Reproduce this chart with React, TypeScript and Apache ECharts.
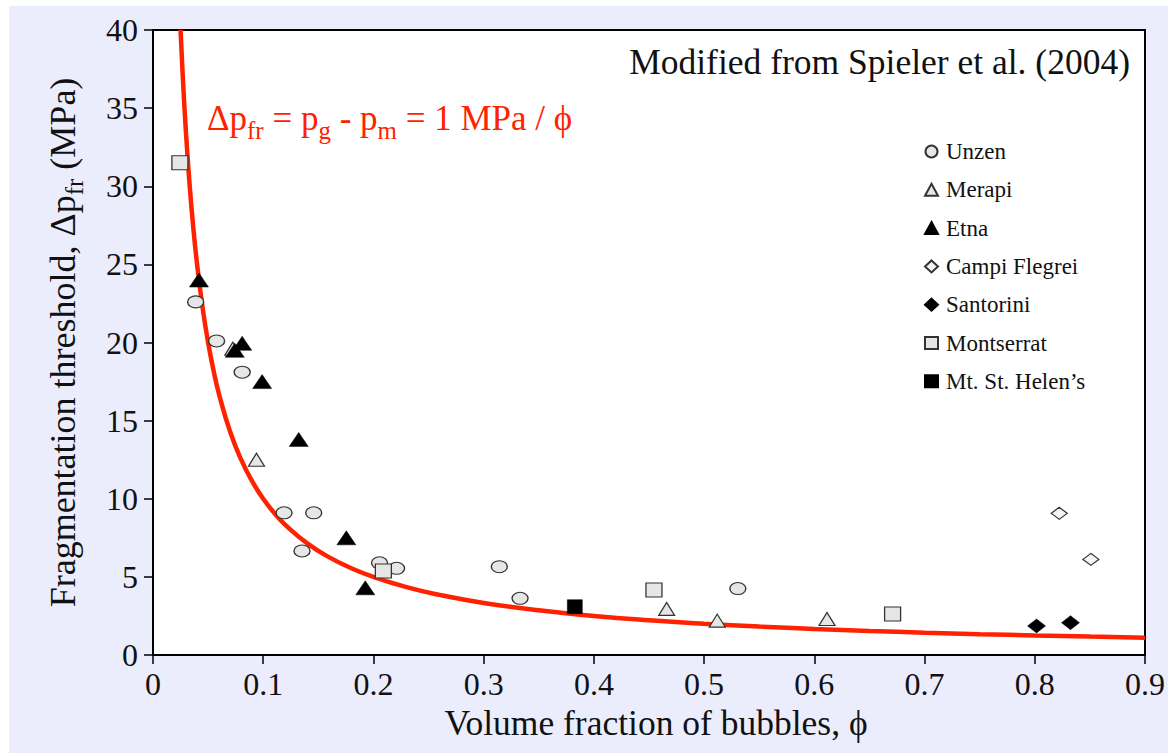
import React, { useEffect, useRef } from "react";
import * as echarts from "echarts";

const unzen = [[0.0387, 22.6], [0.0577, 20.1], [0.0809, 18.1], [0.1189, 9.1], [0.1458, 9.1], [0.1352, 6.66], [0.2055, 5.9], [0.221, 5.55], [0.3142, 5.65], [0.333, 3.63], [0.5306, 4.25]];
const merapi = [[0.0724, 19.6], [0.0939, 12.5], [0.466, 2.95], [0.5119, 2.2], [0.6115, 2.3]];
const etna = [[0.0417, 24.0], [0.0809, 19.95], [0.0742, 19.5], [0.099, 17.5], [0.1322, 13.8], [0.1754, 7.5], [0.1926, 4.3]];
const campiFlegrei = [[0.8222, 9.07], [0.8509, 6.12]];
const santorini = [[0.8016, 1.86], [0.8324, 2.07]];
const montserrat = [[0.0244, 31.5], [0.209, 5.38], [0.4545, 4.16], [0.671, 2.62]];
const stHelens = [[0.3827, 3.09]];

// Curve stated in the chart: Δp_fr = 1 MPa / ϕ
const phiCurve = [0.025, 0.027, 0.03, 0.033, 0.036, 0.04, 0.045, 0.05, 0.055, 0.06, 0.07, 0.08, 0.09, 0.1, 0.11, 0.12, 0.14, 0.16, 0.18, 0.2, 0.23, 0.26, 0.3, 0.35, 0.4, 0.45, 0.5, 0.55, 0.6, 0.65, 0.7, 0.75, 0.8, 0.85, 0.9];

const xTicks = ["0", "0.1", "0.2", "0.3", "0.4", "0.5", "0.6", "0.7", "0.8", "0.9"];

const FONT = "'Liberation Serif', 'Times New Roman', serif";
const ELLIPSE = "path://M0 50A50 50 0 1 0 100 50A50 50 0 1 0 0 50Z";
const OPEN_FILL = "#e6e6e6";
const OPEN_STROKE = "#333333";
const RED = "#ff2200";

export default function App() {
  const ref = useRef<HTMLDivElement>(null);
  useEffect(() => {
    if (!ref.current) return;
    const chart = echarts.init(ref.current, null, { renderer: "svg" });
    const openStyle = { color: OPEN_FILL, borderColor: OPEN_STROKE, borderWidth: 1.2, opacity: 1 };
    const filledStyle = { color: "#000000", borderColor: "#000000", borderWidth: 0.5, opacity: 1 };
    chart.setOption({
      animation: false,
      backgroundColor: "#ffffff",
      graphic: [
        { type: "rect", z: -100, shape: { x: 9, y: 6, width: 1159, height: 747 }, style: { fill: "#ecedfc" } },
        {
          type: "text", right: 38, top: 44, z: 10,
          style: { text: "Modified from Spieler et al. (2004)", font: `35.5px ${FONT}`, fill: "#111111" },
        },
        {
          type: "text", left: 207, top: 101, z: 10,
          style: {
            text: "{b|Δp}{s|fr}{b| = p}{s|g}{b| - p}{s|m}{b| = 1 MPa / ϕ}",
            rich: {
              b: { fontFamily: FONT, fontSize: 35, fill: RED, lineHeight: 37 },
              s: { fontFamily: FONT, fontSize: 25, fill: RED, verticalAlign: "bottom", lineHeight: 37, padding: [0, 0, -6, 0] },
            },
          },
        },
      ],
      grid: { left: 153, top: 30, width: 994, height: 625, show: true, backgroundColor: "#ffffff", borderColor: "#000000", borderWidth: 2 },
      legend: {
        orient: "vertical", left: 919, top: 135, itemWidth: 13, itemHeight: 12, itemGap: 15.3,
        textStyle: { fontFamily: FONT, fontSize: 23, color: "#111111", lineHeight: 23, padding: [0, 0, 0, 3] },
        data: [
          { name: "Unzen", icon: "circle" },
          { name: "Merapi" },
          { name: "Etna" },
          { name: "Campi Flegrei" },
          { name: "Santorini" },
          { name: "Montserrat" },
          { name: "Mt. St. Helen’s" },
        ],
      },
      xAxis: {
        type: "value", min: 0, max: 0.9, interval: 0.1,
        name: "Volume fraction of bubbles, ϕ", nameLocation: "middle", nameGap: 49,
        nameTextStyle: { fontFamily: FONT, fontSize: 35.5, color: "#111111", padding: [0, 0, 0, 14] },
        axisLine: { lineStyle: { color: "#000000", width: 2 } },
        axisTick: { inside: false, length: 9, lineStyle: { color: "#000000", width: 1.5 } },
        axisLabel: { fontFamily: FONT, fontSize: 32, color: "#111111", margin: 13, formatter: (v: number) => xTicks[Math.round(v * 10)] },
        splitLine: { show: false },
      },
      yAxis: {
        type: "value", min: 0, max: 40, interval: 5,
        name: "{n|Fragmentation threshold, Δp}{s|fr}{n| (MPa)}", nameLocation: "middle", nameGap: 72,
        nameTextStyle: {
          rich: {
            n: { fontFamily: FONT, fontSize: 36, color: "#111111", lineHeight: 37 },
            s: { fontFamily: FONT, fontSize: 25, color: "#111111", verticalAlign: "bottom", lineHeight: 37, padding: [0, 0, -6, 0] },
          },
        },
        axisLine: { lineStyle: { color: "#000000", width: 2 } },
        axisTick: { inside: false, length: 9, lineStyle: { color: "#000000", width: 1.5 } },
        axisLabel: { fontFamily: FONT, fontSize: 32, color: "#111111", margin: 15 },
        splitLine: { show: false },
      },
      series: [
        {
          name: "curve", type: "line", showSymbol: false, smooth: true, clip: true, z: 1,
          lineStyle: { color: RED, width: 4.5 },
          data: phiCurve.map((p) => [p, 1 / p]),
        },
        { name: "Unzen", type: "scatter", z: 3, symbol: ELLIPSE, symbolSize: [16, 12], itemStyle: openStyle, data: unzen },
        { name: "Merapi", type: "scatter", z: 3, symbol: "triangle", symbolSize: [16, 13], itemStyle: openStyle, data: merapi },
        { name: "Etna", type: "scatter", z: 4, symbol: "triangle", symbolSize: [19, 14], itemStyle: filledStyle, data: etna },
        { name: "Campi Flegrei", type: "scatter", z: 3, symbol: "diamond", symbolSize: [16, 12], itemStyle: { ...openStyle, color: "#f4f4f4" }, data: campiFlegrei },
        { name: "Santorini", type: "scatter", z: 3, symbol: "diamond", symbolSize: [18, 14], itemStyle: filledStyle, data: santorini },
        { name: "Montserrat", type: "scatter", z: 3, symbol: "rect", symbolSize: [16, 14], itemStyle: openStyle, data: montserrat },
        { name: "Mt. St. Helen’s", type: "scatter", z: 3, symbol: "rect", symbolSize: [15, 14], itemStyle: filledStyle, data: stHelens },
      ],
    });
    return () => chart.dispose();
  }, []);
  return <div ref={ref} style={{ position: "absolute", left: 0, top: 0, width: 1168, height: 753 }} />;
}
